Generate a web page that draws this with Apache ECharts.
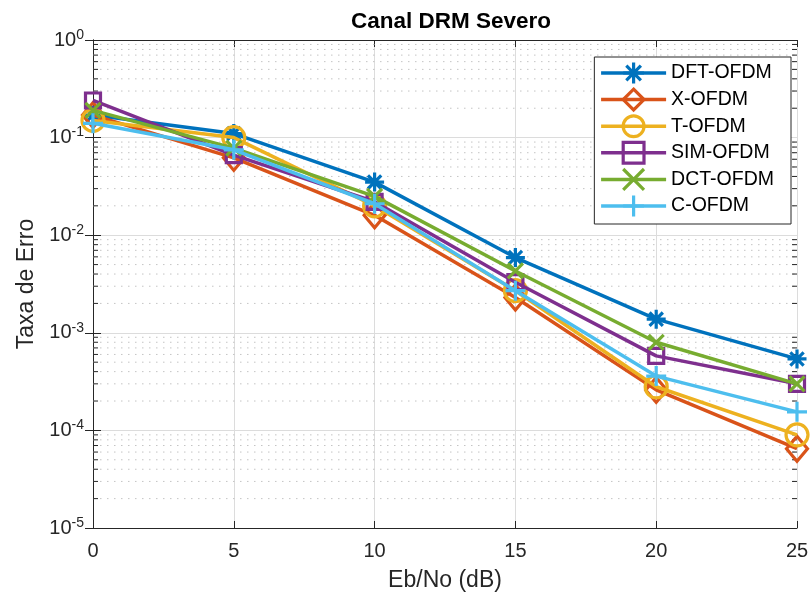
<!DOCTYPE html>
<html>
<head>
<meta charset="utf-8">
<script src="https://cdn.jsdelivr.net/npm/echarts@6/dist/echarts.min.js"></script>
<style>html,body{margin:0;padding:0;background:#fff}#c{width:812px;height:597px}</style>
</head>
<body>
<div id="c"></div>
<script>
var ebno = [0, 5, 10, 15, 20, 25];
var dftOfdm = [0.17, 0.110, 0.035, 0.0059, 0.00138, 0.00054];
var xOfdm   = [0.17, 0.062, 0.016, 0.0023, 0.00026, 0.000065];
var tOfdm   = [0.15, 0.100, 0.020, 0.0027, 0.00028, 0.000090];
var simOfdm = [0.24, 0.066, 0.022, 0.0033, 0.00058, 0.00030];
var dctOfdm = [0.19, 0.078, 0.025, 0.0043, 0.00080, 0.00030];
var cOfdm   = [0.14, 0.075, 0.021, 0.0027, 0.00036, 0.000155];
var seriesNames = ['DFT-OFDM', 'X-OFDM', 'T-OFDM', 'SIM-OFDM', 'DCT-OFDM', 'C-OFDM'];
var xTicks = [0, 5, 10, 15, 20, 25];
var yDecades = [1e-5, 1e-4, 1e-3, 1e-2, 1e-1, 1];

var colors = ['#0072BD', '#D95319', '#EDB120', '#7E2F8E', '#77AC30', '#4DBEEE'];
var symbols = [
  'path://M0,-10L0,10M-10,0L10,0M-7,-7L7,7M-7,7L7,-7',
  'path://M0,-12L10,0L0,12L-10,0Z',
  'circle',
  'rect',
  'path://M-10,-10L10,10M-10,10L10,-10',
  'path://M0,-10L0,10M-10,0L10,0'
];
var sizes = [19, [21, 25], 22, 15, 15, 20];
var allData = [dftOfdm, xOfdm, tOfdm, simOfdm, dctOfdm, cOfdm];

// minor grid values (2..9 per decade)
var minorVals = [];
for (var d = 0; d < yDecades.length - 1; d++) {
  for (var k = 2; k <= 9; k++) minorVals.push(k * yDecades[d]);
}

var font = 'Liberation Sans, Arial, Helvetica, sans-serif';
var axisColor = '#262626';

var series = allData.map(function (arr, i) {
  return {
    name: seriesNames[i],
    type: 'line',
    data: ebno.map(function (x, j) { return [x, arr[j]]; }),
    symbol: symbols[i],
    symbolSize: sizes[i],
    symbolKeepAspect: false,
    showAllSymbol: true,
    clip: false,
    lineStyle: { color: colors[i], width: 3.5 },
    itemStyle: { color: 'rgba(255,255,255,0)', borderColor: colors[i], borderWidth: 3.2 },
    emphasis: { disabled: true },
    z: 10 + i,
    animation: false
  };
});

series.push({
  type: 'custom',
  name: 'minor',
  silent: true,
  animation: false,
  z: 1,
  data: minorVals.map(function (v) { return [0, v]; }),
  renderItem: function (params, api) {
    var cs = params.coordSys;
    var y = api.coord([0, api.value(1)])[1];
    var children = [
      { type: 'line', shape: { x1: cs.x, y1: y, x2: cs.x + cs.width, y2: y },
        style: { stroke: '#c4c4c4', lineWidth: 1, lineDash: [1.5, 5.5] } },
      { type: 'line', shape: { x1: cs.x, y1: y, x2: cs.x + 5, y2: y },
        style: { stroke: axisColor, lineWidth: 1 } },
      { type: 'line', shape: { x1: cs.x + cs.width - 5, y1: y, x2: cs.x + cs.width, y2: y },
        style: { stroke: axisColor, lineWidth: 1 } }
    ];
    return { type: 'group', children: children };
  }
});

var chart = echarts.init(document.getElementById('c'), null, { renderer: 'canvas' });
chart.setOption({
  backgroundColor: '#fff',
  animation: false,
  title: {
    text: 'Canal DRM Severo',
    left: 446, top: 5, textAlign: 'center',
    textStyle: { fontFamily: font, fontWeight: 'bold', fontSize: 22.5, color: '#000' }
  },
  grid: { left: 93, right: 15, top: 40, bottom: 69, containLabel: false },
  legend: {
    data: seriesNames,
    orient: 'vertical',
    right: 21, top: 57,
    backgroundColor: '#fff',
    borderColor: '#262626', borderWidth: 1,
    padding: [4, 17, 6, 5],
    itemWidth: 65, itemHeight: 26, itemGap: 2.6,
    lineStyle: { width: 3.5 },
    itemStyle: { borderWidth: 3.2 },
    textStyle: { fontFamily: font, fontSize: 19.5, color: '#000' },
    z: 50
  },
  xAxis: [{
    type: 'value', min: 0, max: 25, interval: 5,
    name: 'Eb/No (dB)', nameLocation: 'middle', nameGap: 41,
    nameTextStyle: { fontFamily: font, fontSize: 23, color: axisColor },
    axisLine: { onZero: false, lineStyle: { color: axisColor, width: 1 } },
    axisTick: { inside: true, length: 7, lineStyle: { color: axisColor } },
    axisLabel: { fontFamily: font, fontSize: 20, color: axisColor, margin: 13 },
    splitLine: { show: true, lineStyle: { color: '#dcdcdc', width: 1 } }
  }, {
    type: 'value', min: 0, max: 25, interval: 5, position: 'top',
    axisLine: { onZero: false, lineStyle: { color: axisColor, width: 1 } },
    axisTick: { inside: true, length: 7, lineStyle: { color: axisColor } },
    axisLabel: { show: false }, splitLine: { show: false }
  }],
  yAxis: [{
    type: 'log', logBase: 10, min: 1e-5, max: 1, splitNumber: 5,
    name: 'Taxa de Erro', nameLocation: 'middle', nameGap: 52,
    nameTextStyle: { fontFamily: font, fontSize: 23, color: axisColor },
    axisLine: { lineStyle: { color: axisColor, width: 1 } },
    axisTick: { inside: true, length: 8, lineStyle: { color: axisColor } },
    axisLabel: {
      fontFamily: font, fontSize: 20, color: axisColor, margin: 9,
      formatter: function (v) {
        var e = Math.round(Math.log10(v));
        return '{b|10}{e|' + e + '}';
      },
      rich: {
        b: { fontFamily: font, fontSize: 20, color: axisColor },
        e: { fontFamily: font, fontSize: 14, color: axisColor, padding: [0, 0, 10, 0] }
      }
    },
    splitLine: { show: true, lineStyle: { color: '#dcdcdc', width: 1 } }
  }, {
    type: 'log', logBase: 10, min: 1e-5, max: 1, splitNumber: 5, position: 'right',
    axisLine: { lineStyle: { color: axisColor, width: 1 } },
    axisTick: { inside: true, length: 8, lineStyle: { color: axisColor } },
    axisLabel: { show: false }, splitLine: { show: false }
  }],
  series: series
});
</script>
</body>
</html>
